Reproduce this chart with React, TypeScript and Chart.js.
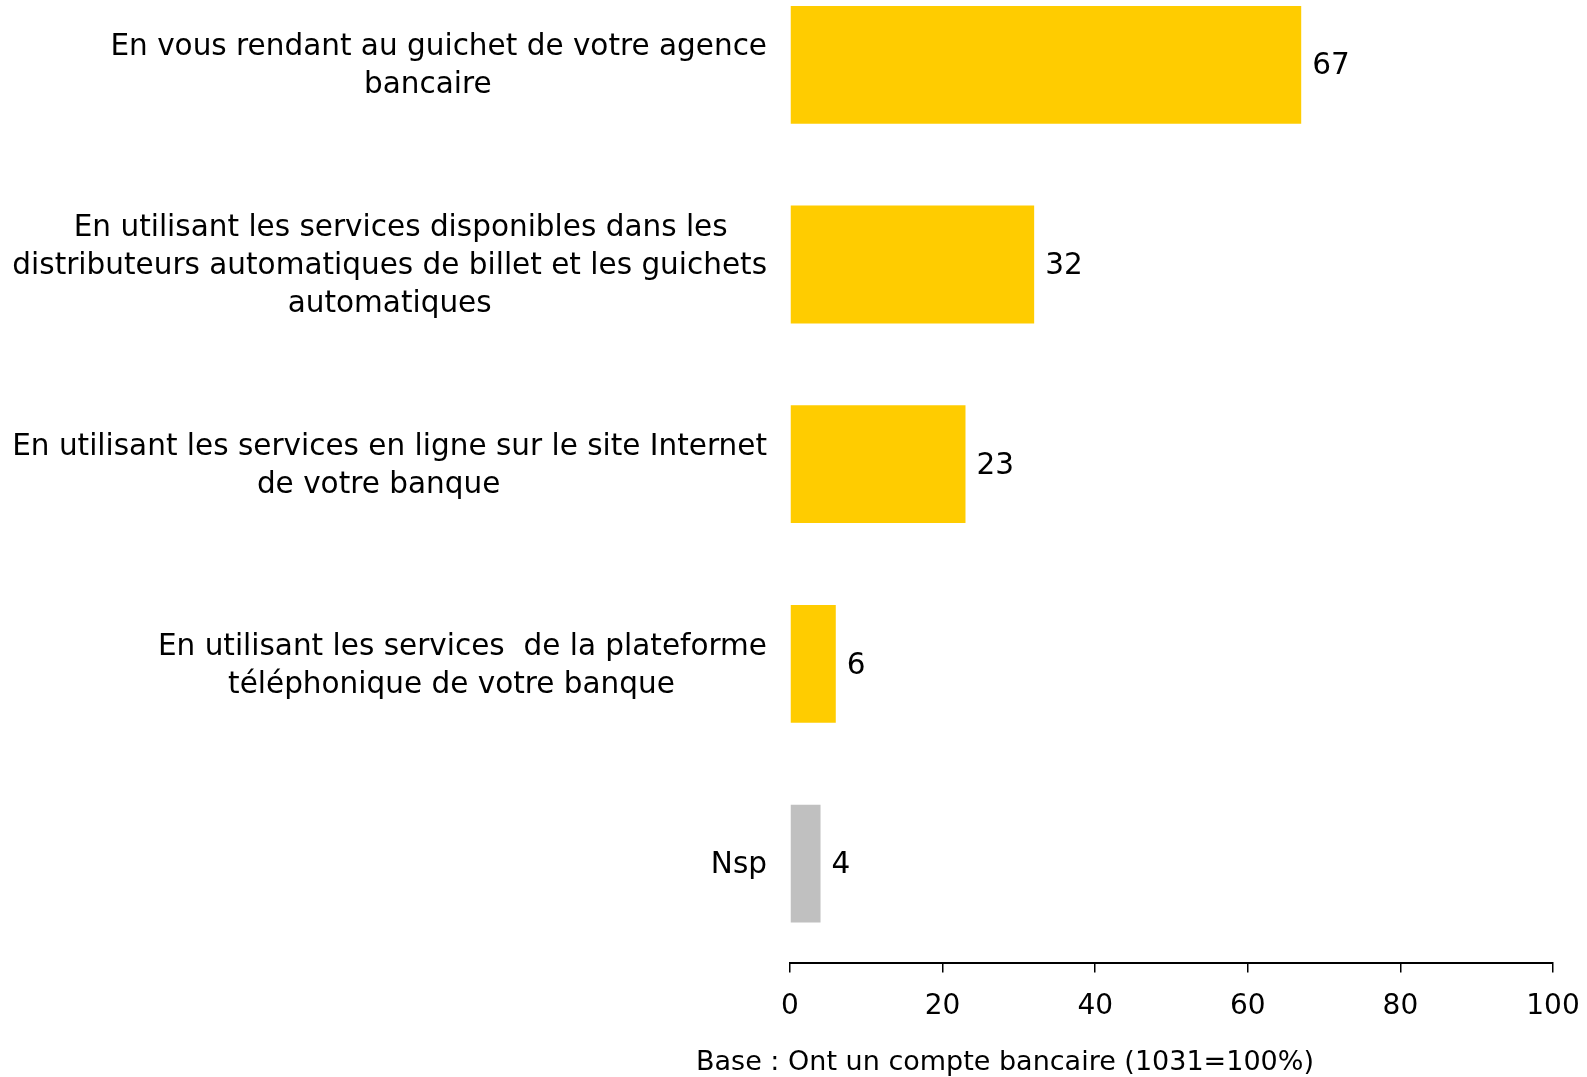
import React, { useEffect, useRef } from "react";
import { Chart, registerables } from "chart.js";

Chart.register(...registerables);

const categories: string[][] = [
  ["En vous rendant au guichet de votre agence", "bancaire"],
  ["En utilisant les services disponibles dans les", "distributeurs automatiques de billet et les guichets", "automatiques"],
  ["En utilisant les services en ligne sur le site Internet", "de votre banque"],
  ["En utilisant les services  de la plateforme", "téléphonique de votre banque"],
  ["Nsp"],
];
const values: number[] = [67, 32, 23, 6, 4];
const barColors: string[] = ["#FFCC00", "#FFCC00", "#FFCC00", "#FFCC00", "#C0C0C0"];
const xTicks = { min: 0, max: 100, step: 20 };
const baseNote = "Base : Ont un compte bancaire (1031=100%)";

const FONT = "DejaVu Sans";
const TOP_SHIFT = 35;

const labelPlugin = {
  id: "customLabels",
  afterDraw(chart: any) {
    const ctx = chart.ctx;
    const yScale = chart.scales.y;
    ctx.save();
    ctx.fillStyle = "#000";
    // category labels
    ctx.font = `29.5px "${FONT}"`;
    ctx.textBaseline = "middle";
    ctx.textAlign = "center";
    const R = 767;
    const lineH = 38;
    const shift = -11;
    categories.forEach((lines, i) => {
      const yc = yScale.getPixelForValue(i) + 2;
      const widths = lines.map((l) => ctx.measureText(l).width);
      const offs = lines.map((_, k) => (k === 0 ? 0 : shift));
      const maxRight = Math.max(...widths.map((w, k) => offs[k] + w / 2));
      const c1 = R - maxRight;
      const y0 = yc - ((lines.length - 1) * lineH) / 2;
      lines.forEach((l, k) => {
        ctx.fillText(l, c1 + offs[k], y0 + k * lineH);
      });
    });
    // value labels
    const meta = chart.getDatasetMeta(0);
    ctx.textAlign = "left";
    meta.data.forEach((bar: any, i: number) => {
      ctx.fillText(String(values[i]), bar.x + 11, bar.y + 2);
    });
    // base note
    ctx.font = `27px "${FONT}"`;
    ctx.textAlign = "center";
    ctx.fillText(baseNote, 1005, 1063 + TOP_SHIFT);
    ctx.restore();
  },
};

export default function App() {
  const ref = useRef<HTMLCanvasElement | null>(null);
  useEffect(() => {
    if (!ref.current) return;
    Chart.defaults.font.family = FONT;
    const chart = new Chart(ref.current, {
      type: "bar",
      data: {
        labels: categories.map((c) => c.join(" ")),
        datasets: [
          {
            data: values,
            backgroundColor: barColors,
            borderWidth: 0,
            categoryPercentage: 1,
            barPercentage: 0.59,
          },
        ],
      },
      options: {
        indexAxis: "y",
        animation: false,
        responsive: false,
        devicePixelRatio: 1,
        layout: { padding: { left: 790, right: 34, top: 0, bottom: 35 } },
        plugins: { legend: { display: false }, tooltip: { enabled: false } },
        scales: {
          x: {
            min: xTicks.min,
            max: xTicks.max,
            afterFit: (scale: any) => {
              scale.paddingRight = 0;
              scale.paddingLeft = 0;
            },
            ticks: { stepSize: xTicks.step, color: "#000", font: { size: 28, family: FONT }, padding: 18 },
            grid: { drawOnChartArea: false, drawTicks: true, tickLength: 9, color: "#000", lineWidth: 1.5 },
            border: { display: true, color: "#000", width: 2 },
          },
          y: {
            display: false,
          },
        },
      },
      plugins: [labelPlugin],
    });
    return () => chart.destroy();
  }, []);
  return (
    <div style={{ position: "fixed", left: 0, top: 0, width: 1587, height: 1077, overflow: "hidden", background: "#fff" }}>
      <canvas
        ref={ref}
        width={1587}
        height={1077 + TOP_SHIFT}
        style={{ position: "absolute", left: 0, top: -TOP_SHIFT, width: 1587, height: 1077 + TOP_SHIFT }}
      />
    </div>
  );
}
